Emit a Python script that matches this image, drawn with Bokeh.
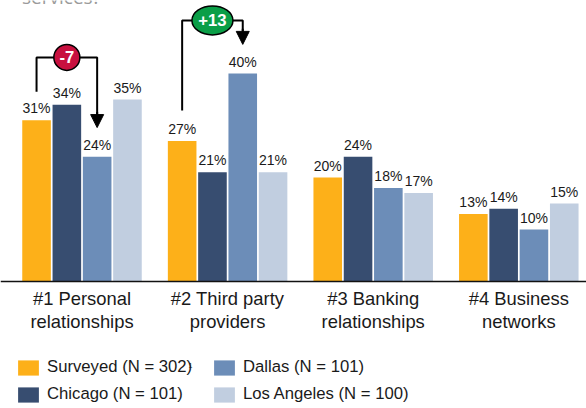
from bokeh.plotting import figure
from bokeh.models import ColumnDataSource, FixedTicker, Legend, LegendItem, Arrow, NormalHead
from bokeh.core.properties import value
from bokeh.embed import file_html
from bokeh.resources import INLINE

categories = ["#1 Personal\nrelationships", "#2 Third party\nproviders", "#3 Banking\nrelationships", "#4 Business\nnetworks"]
surveyed = [31, 27, 20, 13]
chicago = [34, 21, 24, 14]
dallas = [24, 40, 18, 10]
los_angeles = [35, 21, 17, 15]
series_names = ["Surveyed (N = 302)", "Chicago (N = 101)", "Dallas (N = 101)", "Los Angeles (N = 100)"]
colors = ["#FDB019", "#374D70", "#6C8DB8", "#C1CEE0"]
title_text = "services?"
footnote_mark = "1"
bracket_labels = ["-7", "+13"]
bracket_colors = ["#C8103F", "#0A9E47"]
bracket_start = [36.5, 32.9]
bracket_top = [43.1, 50.2]
bracket_tip = [29.6, 45.6]
bracket_group = [0, 1]

W, H = 586, 408
GROUP = 145.6
X0 = 81.5
BASE = 281.0
PX = 5.2
STEP = 30.3 / GROUP
BAR = 28.6 / GROUP
FONT = value("Liberation Sans")

p = figure(width=W, height=H, output_backend="svg", toolbar_location=None,
           x_range=(-X0 / GROUP, (W - X0) / GROUP),
           y_range=((BASE - H) / PX, BASE / PX),
           min_border=0, outline_line_color=None, margin=(0, 0, 0, 0))
p.grid.visible = False
p.yaxis.visible = False
p.background_fill_color = "white"

ax = p.xaxis[0]
ax.fixed_location = 0
ax.ticker = FixedTicker(ticks=list(range(len(categories))))
ax.major_label_overrides = {i: c for i, c in enumerate(categories)}
ax.major_tick_line_color = None
ax.minor_tick_line_color = None
ax.axis_line_color = "#111111"
ax.axis_line_width = 1.5
ax.major_label_text_font = "Liberation Sans"
ax.major_label_text_font_size = "18.4px"
ax.major_label_text_color = "#1a1a1a"
ax.major_label_standoff = 0
ax.major_label_text_line_height = 1.1

items = []
for j, (vals, name, col) in enumerate(zip([surveyed, chicago, dallas, los_angeles], series_names, colors)):
    xs = [i + (j - 1.5) * STEP for i in range(len(vals))]
    src = ColumnDataSource(dict(x=xs, top=vals, lab=[f"{v}%" for v in vals]))
    r = p.vbar(x="x", top="top", bottom=0, width=BAR, fill_color=col, line_color=None, source=src)
    p.text(x="x", y="top", text="lab", source=src, text_align="center", text_baseline="bottom",
           y_offset=-4, text_font=FONT, text_font_size="14px", text_color="#1a1a1a")
    items.append(LegendItem(label=name, renderers=[r]))

for g, s, t, e, lab, col in zip(bracket_group, bracket_start, bracket_top, bracket_tip, bracket_labels, bracket_colors):
    xl = g - 1.5 * STEP
    xr = g + 0.5 * STEP
    p.line([xl, xl, xr, xr], [s, t, t, e + 2], line_color="black", line_width=2)
    p.add_layout(Arrow(end=NormalHead(size=13, fill_color="black", line_color="black"),
                       x_start=xr, y_start=e + 3, x_end=xr, y_end=e,
                       line_color="black", line_width=2))
    xm = (xl + xr) / 2
    p.ellipse([xm], [t], width=26 if g == 0 else 41, height=26 if g == 0 else 29,
              width_units="screen", height_units="screen",
              fill_color=col, line_color="black", line_width=1.5)
    p.text([xm], [t], text=[lab], text_align="center", text_baseline="middle",
           text_font=FONT, text_font_style="bold", text_font_size="16.7px", text_color="white")

p.text([-60 / GROUP], [BASE / PX], text=[title_text], text_baseline="alphabetic", y_offset=-4,
       text_font=value("Open Sans"), text_font_size="19px", text_color="#9a9a9a")

p.text([(190 - X0) / GROUP], [(BASE - 367) / PX], text=[footnote_mark], text_align="center", text_baseline="bottom",
       text_font=FONT, text_font_size="7px", text_color="#1a1a1a")

for its, lx in ((items[:2], 15), (items[2:], 211)):
    legend = Legend(items=its, location=(lx, 4), orientation="vertical",
                    glyph_width=26, glyph_height=19, label_standoff=6, spacing=7, margin=0, padding=0,
                    border_line_color=None, background_fill_alpha=0,
                    label_text_font="Liberation Sans", label_text_font_size="16.7px",
                    label_text_color="#1a1a1a", label_height=15)
    p.add_layout(legend, "center")

open("out.html", "w").write(file_html(p, INLINE))
